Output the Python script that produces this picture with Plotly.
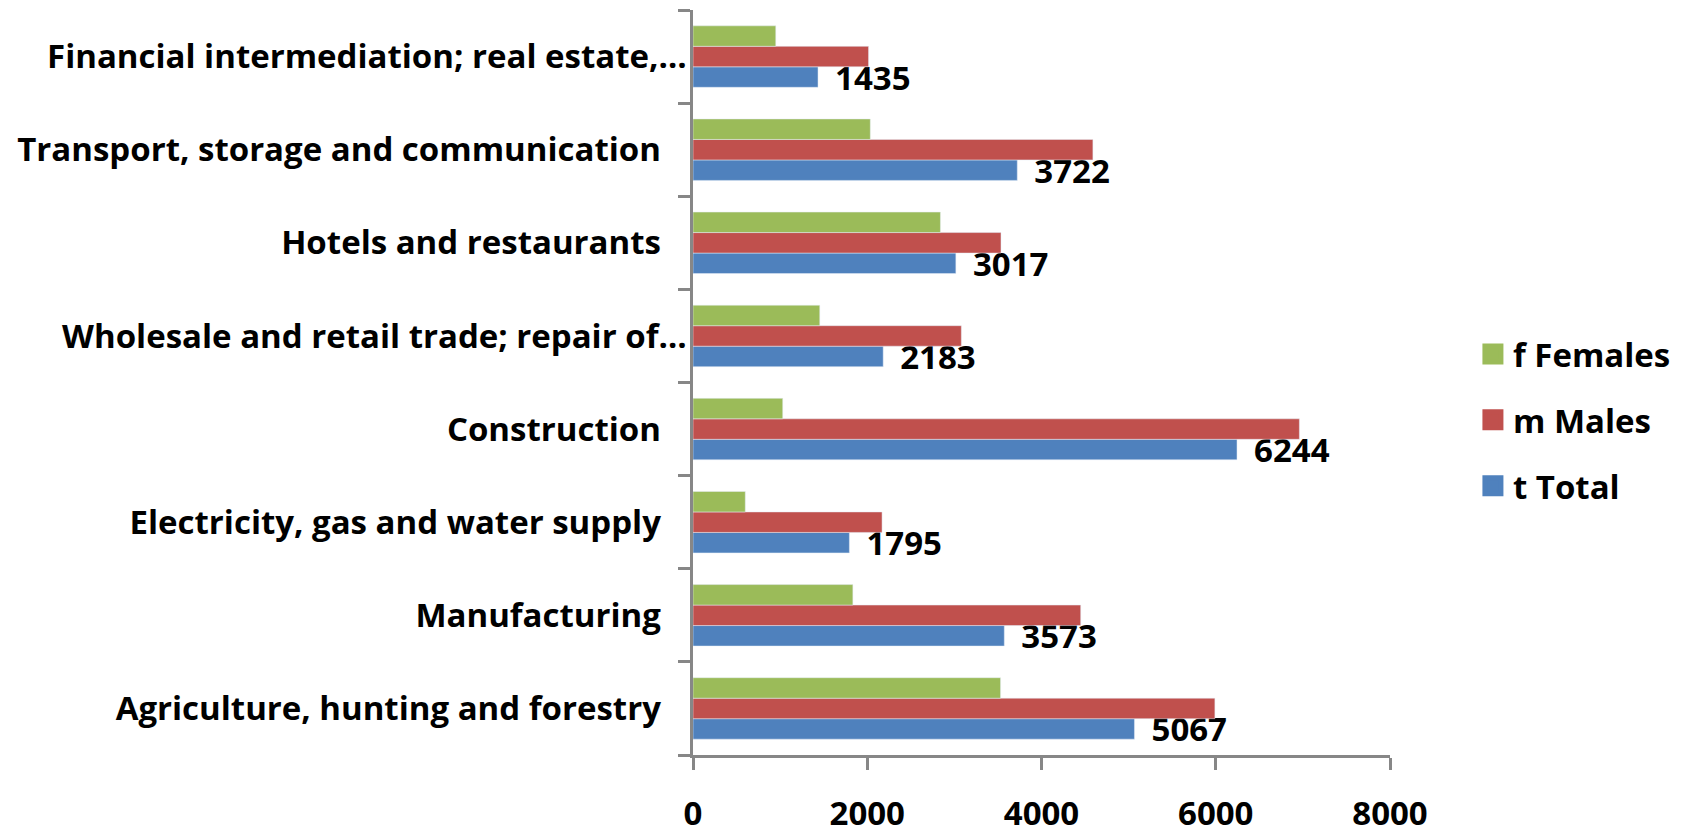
import plotly.graph_objects as go

categories = [
    "Agriculture, hunting and forestry",
    "Manufacturing",
    "Electricity, gas and water supply",
    "Construction",
    "Wholesale and retail trade; repair of…",
    "Hotels and restaurants",
    "Transport, storage and communication",
    "Financial intermediation; real estate,…",
]
total = [5067, 3573, 1795, 6244, 2183, 3017, 3722, 1435]
males = [5990, 4450, 2170, 6960, 3080, 3535, 4590, 2015]
females = [3530, 1835, 600, 1030, 1455, 2840, 2035, 950]
x_ticks = [0, 2000, 4000, 6000, 8000]

series_names = ["t Total", "m Males", "f Females"]
series_colors = ["#4F81BD", "#C0504D", "#9BBB59"]
series_values = [total, males, females]

FONT = "Open Sans, sans-serif"
AXIS_GREY = "#878787"
tick_text = [c if c.endswith("…") else c + "\u00a0\u00a0\u00a0" for c in categories]

fig = go.Figure()
for i, (name, color, vals) in enumerate(zip(series_names, series_colors, series_values)):
    bar = dict(
        y=categories, x=vals, name=name, orientation="h",
        marker=dict(color=color), legendgroup=name, showlegend=False,
    )
    if name == "t Total":
        bar.update(
            text=vals, texttemplate="\u00a0\u2009%{text}", textposition="outside",
            textfont=dict(family=FONT, size=33, color="black", weight="bold"),
            constraintext="none", cliponaxis=False,
        )
    fig.add_trace(go.Bar(**bar))

# legend entries with larger square swatches (no data points)
for i, (name, color) in enumerate(zip(series_names, series_colors)):
    fig.add_trace(go.Scatter(
        x=[None], y=[None], mode="markers", name=name, legendgroup=name,
        legendrank=3 - i, showlegend=True,
        marker=dict(symbol="square", size=16, color=color, line=dict(color=color, width=5)),
    ))

fig.update_layout(
    width=1682, height=835,
    margin=dict(l=693, r=292, t=10, b=80, autoexpand=False),
    paper_bgcolor="white", plot_bgcolor="white",
    barmode="group", bargap=0.34, bargroupgap=0,
    font=dict(family=FONT, color="black"),
    showlegend=True,
    legend=dict(
        traceorder="grouped", tracegroupgap=20,
        font=dict(family=FONT, size=33, color="black", weight="bold"),
        xref="container", yref="container", x=0.8757, y=0.497,
        xanchor="left", yanchor="middle", bgcolor="rgba(0,0,0,0)",
    ),
)
fig.update_xaxes(
    range=[0, 8000], tickvals=x_ticks, ticktext=[str(v) for v in x_ticks],
    showgrid=False, zeroline=False, showline=True, linecolor=AXIS_GREY, linewidth=2.5,
    ticks="outside", ticklen=12, tickwidth=2.5, tickcolor=AXIS_GREY,
    tickfont=dict(family=FONT, size=33, color="black", weight="bold"),
    ticklabelstandoff=16, automargin=False,
)
fig.update_yaxes(
    type="category", categoryorder="array", categoryarray=categories,
    tickvals=categories, ticktext=tick_text,
    showgrid=False, zeroline=False, showline=True, linecolor=AXIS_GREY, linewidth=2.5,
    ticks="outside", ticklen=12, tickwidth=2.5, tickcolor=AXIS_GREY, tickson="boundaries",
    tickfont=dict(family=FONT, size=33, color="black", weight="bold"),
    ticklabelstandoff=-3, automargin=False,
)

fig.write_html(
    "out.html",
    config={"displayModeBar": False},
    post_script="document.body.style.margin='0';document.body.style.overflow='hidden';",
)
